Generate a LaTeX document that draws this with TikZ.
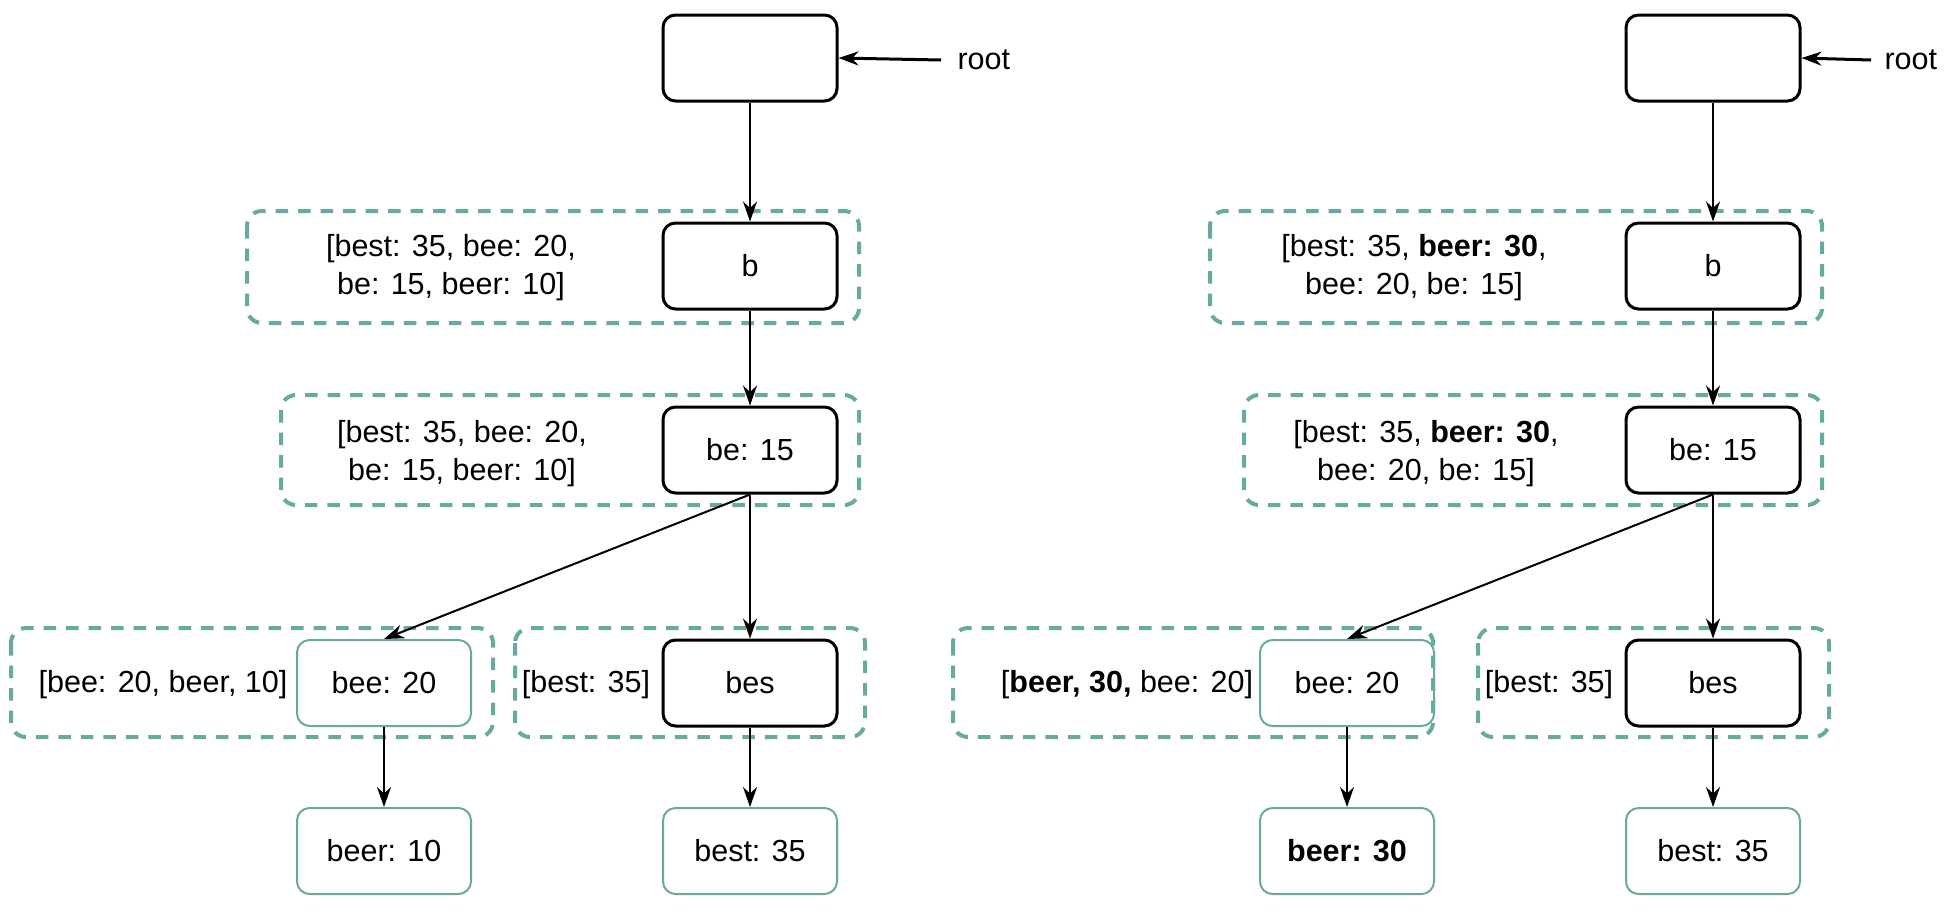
\documentclass[tikz,border=0pt]{standalone}
\usepackage{fontspec}
\setmainfont{Liberation Sans}
\usetikzlibrary{arrows.meta}

\definecolor{grpteal}{RGB}{103,171,159}

\begin{document}
\begin{tikzpicture}[x=0.4pt,y=-0.4pt,
	font=\fontsize{12.2}{15.2}\selectfont,
	box/.style={draw,rounded corners=5pt,line width=1.2pt,minimum width=69.6pt,minimum height=34.4pt,inner sep=0pt},
	leaf/.style={box,draw=grpteal,line width=0.8pt},
	group/.style={draw=grpteal,dash pattern=on 5pt off 4pt,line width=1.6pt,rounded corners=6pt},
	link/.style={-{Stealth[length=8pt,width=5.6pt]},line width=0.8pt},
	memo/.style={align=center,inner sep=0pt}]
	
	\useasboundingbox (0,0) rectangle (1951,922);
	
	\draw[group] (247,211) rectangle (859,323);
	\draw[group] (281,395) rectangle (859,505);
	\draw[group] (11,628) rectangle (493,737);
	\draw[group] (515,628) rectangle (865,737);
	
	\node[box] (rootL) at (750,58) {};
	\node[box] (bL) at (750,266) {b};
	\node[box] (beL) at (750,450) {be: 15};
	\node[leaf] (beeL) at (384,683) {bee: 20};
	\node[box] (besL) at (750,683) {bes};
	\node[leaf] (beerL) at (384,851) {beer: 10};
	\node[leaf] (bestL) at (750,851) {best: 35};
	
	\node[anchor=west,inner xsep=6.4pt,inner ysep=0pt] (rootlblL) at (941,60) {root};
	\node[memo] (tbL) at (451,268) {[best: 35, bee: 20,\\ be: 15, beer: 10]};
	\node[memo] (tbeL) at (462,454) {[best: 35, bee: 20,\\ be: 15, beer: 10]};
	\node[memo] (tbeeL) at (163,685) {[bee: 20, beer, 10]};
	\node[memo] (tbesL) at (586,685) {[best: 35]};
	
	\draw[link,line width=1.2pt] (rootlblL.west) -- (rootL.east);
	\draw[link] (rootL) -- (bL);
	\draw[link] (bL) -- (beL);
	\draw[link] (beL.south) -- (beeL.north);
	\draw[link] (beL) -- (besL);
	\draw[link] (beeL) -- (beerL);
	\draw[link] (besL) -- (bestL);
	
	\draw[group] (1210,211) rectangle (1822,323);
	\draw[group] (1244,395) rectangle (1822,505);
	\draw[group] (953,628) rectangle (1433,737);
	\draw[group] (1478,628) rectangle (1829,737);
	
	\node[box] (rootR) at (1713,58) {};
	\node[box] (bR) at (1713,266) {b};
	\node[box] (beR) at (1713,450) {be: 15};
	\node[leaf] (beeR) at (1347,683) {bee: 20};
	\node[box] (besR) at (1713,683) {bes};
	\node[leaf] (beerR) at (1347,851) {\textbf{beer: 30}};
	\node[leaf] (bestR) at (1713,851) {best: 35};
	
	\node[anchor=west,inner xsep=5.2pt,inner ysep=0pt] (rootlblR) at (1871,60) {root};
	\node[memo] (tbR) at (1414,268) {[best: 35, \textbf{beer: 30},\\ bee: 20, be: 15]};
	\node[memo] (tbeR) at (1426,454) {[best: 35, \textbf{beer: 30},\\ bee: 20, be: 15]};
	\node[memo] (tbeeR) at (1127,685) {[\textbf{beer, 30,} bee: 20]};
	\node[memo] (tbesR) at (1549,685) {[best: 35]};
	
	\draw[link,line width=1.2pt] (rootlblR.west) -- (rootR.east);
	\draw[link] (rootR) -- (bR);
	\draw[link] (bR) -- (beR);
	\draw[link] (beR.south) -- (beeR.north);
	\draw[link] (beR) -- (besR);
	\draw[link] (beeR) -- (beerR);
	\draw[link] (besR) -- (bestR);
	
\end{tikzpicture}
\end{document}
